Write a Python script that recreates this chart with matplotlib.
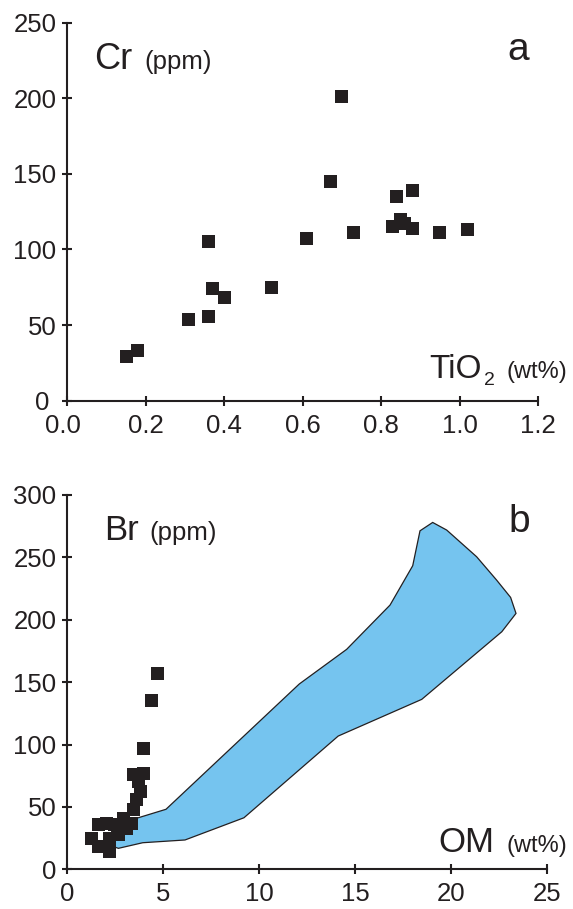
import matplotlib
matplotlib.use("Agg")
import matplotlib.pyplot as plt
from matplotlib.patches import Polygon
from matplotlib.transforms import offset_copy

plt.rcParams['font.family'] = ['Liberation Sans', 'DejaVu Sans']

INK = '#231f20'
FILL = '#75c4ef'

# panel a: Cr vs TiO2
tio2 = [0.15, 0.18, 0.31, 0.36, 0.36, 0.37, 0.40, 0.52, 0.61, 0.67, 0.70,
        0.73, 0.83, 0.84, 0.85, 0.86, 0.88, 0.88, 0.95, 1.02]
cr = [29, 33, 54, 56, 105, 74, 68, 75, 107, 145, 201,
      111, 115, 135, 120, 117, 114, 139, 111, 113]

# panel b: Br vs OM
om = [4.69, 4.39, 3.96, 3.96, 3.44, 3.79, 3.61, 3.44, 2.92, 2.48, 1.62,
      2.05, 1.27, 2.22, 2.66, 1.62, 2.22, 3.09, 3.35, 3.70]
br = [157, 135, 97, 77, 76, 62, 56, 48, 41, 36, 36,
      37, 25, 25, 28, 18, 14, 33, 37, 70]

# outline of the shaded field in panel b (OM, Br)
field_om = [2.31, 3.61, 5.14, 12.08, 14.55, 16.81, 17.99, 18.37, 19.03, 19.76,
            21.32, 22.36, 23.09, 23.37, 22.63, 18.46, 14.11, 9.20, 6.13, 3.93,
            2.66, 2.31]
field_br = [31.5, 40.9, 48.1, 148.5, 176.3, 211.8, 243.3, 271.3, 278, 271.9,
            250.5, 231.8, 217.9, 205.1, 190.4, 136.2, 106.8, 41.3, 23.5, 21.3,
            16.8, 18.7]

W, H = 573, 909
fig = plt.figure(figsize=(W / 100, H / 100), dpi=100)


def px_axes(left, top, right, bottom):
    return fig.add_axes([left / W, 1 - bottom / H, (right - left) / W, (bottom - top) / H])


def style_axes(ax):
    for s in ('top', 'right'):
        ax.spines[s].set_visible(False)
    for s in ('left', 'bottom'):
        ax.spines[s].set_color(INK)
        ax.spines[s].set_linewidth(1.5)
    ax.tick_params(direction='inout', length=7.5, width=1.5, color=INK,
                   labelsize=18.5, labelcolor=INK)
    ax.tick_params(axis='x', pad=5.5)
    ax.tick_params(axis='y', pad=4)


def label(x, y, s, size):
    fig.text(x / W, 1 - y / H, s, fontsize=size, color=INK, va='baseline', ha='left')


ax1 = px_axes(67.3, 22.7, 538, 400.7)
ax1.scatter(tio2, cr, marker='s', s=88, color=INK, edgecolors='none', clip_on=False, zorder=3)
ax1.set_xlim(0, 1.2)
ax1.set_ylim(0, 250)
ax1.set_xticks([0.0, 0.2, 0.4, 0.6, 0.8, 1.0, 1.2])
ax1.set_xticklabels(['0.0', '0.2', '0.4', '0.6', '0.8', '1.0', '1.2'])
ax1.set_yticks(range(0, 251, 50))
style_axes(ax1)

ax2 = px_axes(67.3, 495, 547.3, 869.3)
ax2.add_patch(Polygon(list(zip(field_om, field_br)), closed=True, facecolor=FILL,
                      edgecolor=INK, linewidth=0.9, zorder=2))
ax2.scatter(om, br, marker='s', s=88, color=INK, edgecolors='none', clip_on=False, zorder=3)
ax2.set_xlim(0, 25)
ax2.set_ylim(0, 300)
ax2.set_xticks(range(0, 26, 5))
ax2.set_yticks(range(0, 301, 50))
style_axes(ax2)

# the zero of panel a's y axis sits a little further left, clear of "0.0"
fig.canvas.draw()
zero = ax1.yaxis.get_major_ticks()[0].label1
zero.set_transform(offset_copy(zero.get_transform(), fig=fig, x=-7, units='dots'))
x0 = ax1.xaxis.get_major_ticks()[0].label1
x0.set_transform(offset_copy(x0.get_transform(), fig=fig, x=-4, units='dots'))

label(94, 69, 'Cr', 26)
label(144, 69, '(ppm)', 18.5)
label(507, 60, 'a', 28)
label(429, 378, 'TiO', 24)
label(484, 385, '2', 14)
label(506, 378, '(wt%)', 17)

label(104, 540, 'Br', 25)
label(149, 540, '(ppm)', 18.5)
label(508, 532, 'b', 28)
label(438, 852, 'OM', 25)
label(507, 852, '(wt%)', 17)

fig.savefig('out.png', dpi=100)
